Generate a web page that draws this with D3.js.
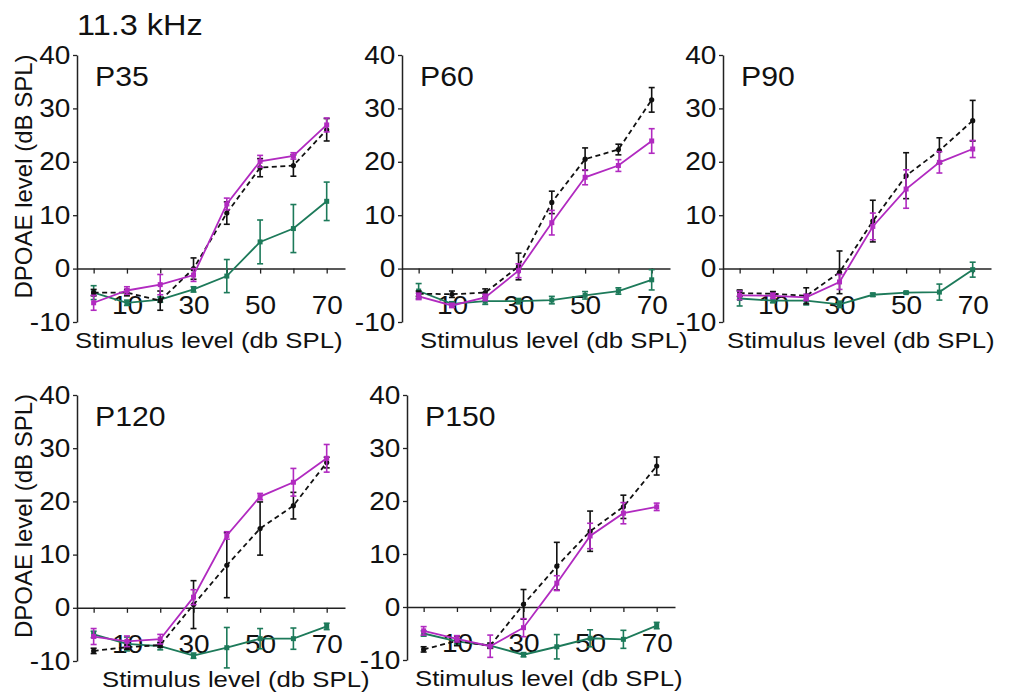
<!DOCTYPE html>
<html>
<head>
<meta charset="utf-8">
<script src="https://cdn.jsdelivr.net/npm/d3@7"></script>
<style>
  body { margin: 0; background: #fff; }
  svg { font-family: "Liberation Sans", Arial, sans-serif; }
</style>
</head>
<body>
<div id="chart"></div>
<script>
// stimulus levels (db SPL)
const levels = [0, 10, 20, 30, 40, 50, 60, 70];
const yTicks = [-10, 0, 10, 20, 30, 40];
const xLabelTicks = [10, 30, 50, 70];
const panelNames = ["P35", "P60", "P90", "P120", "P150"];

// mean DPOAE level, black dashed series
const blackP35 = [-4.5, -4.5, -6.0, 0.0, 10.4, 18.9, 19.3, 26.0];
const blackP60 = [-4.7, -4.8, -4.5, 0.4, 12.4, 20.5, 22.3, 31.6];
const blackP90 = [-4.6, -4.7, -5.1, -0.7, 8.9, 17.4, 22.1, 27.7];
const blackP120 = [-8.1, -7.4, -7.0, 0.6, 8.0, 14.9, 19.2, 27.3];
const blackP150 = [-8.0, -6.4, -7.3, 0.5, 7.7, 14.3, 18.9, 26.6];
const blackErrP35 = [0.6, 0.6, 1.8, 2.0, 2.1, 1.7, 2.0, 2.1];
const blackErrP60 = [0.5, 0.6, 0.7, 2.5, 2.1, 2.1, 1.0, 2.3];
const blackErrP90 = [0.6, 0.4, 1.5, 4.0, 3.9, 4.3, 2.4, 3.8];
const blackErrP120 = [0.5, 0.4, 0.4, 4.5, 6.1, 5.0, 2.5, 1.0];
const blackErrP150 = [0.5, 0.9, 0.5, 2.8, 4.5, 3.8, 2.2, 1.7];

// magenta series
const magentaP35 = [-6.4, -4.1, -3.0, -1.2, 12.1, 20.1, 21.1, 26.9];
const magentaP60 = [-5.2, -6.9, -5.4, -0.4, 8.6, 17.1, 19.3, 23.9];
const magentaP90 = [-5.0, -5.1, -5.4, -2.5, 7.9, 14.9, 19.9, 22.4];
const magentaP120 = [-5.4, -6.3, -5.9, 2.0, 13.6, 20.9, 23.6, 28.1];
const magentaP150 = [-4.5, -6.0, -7.4, -3.9, 4.5, 13.4, 17.7, 18.9];
const magentaErrP35 = [1.4, 0.7, 1.9, 1.2, 1.1, 1.1, 0.6, 1.3];
const magentaErrP60 = [0.6, 0.4, 0.6, 1.3, 2.3, 1.4, 1.1, 2.3];
const magentaErrP90 = [0.8, 0.5, 0.6, 1.4, 2.5, 3.6, 2.0, 1.6];
const magentaErrP120 = [1.5, 1.0, 0.9, 1.4, 0.7, 0.6, 2.6, 2.6];
const magentaErrP150 = [0.8, 0.6, 2.1, 1.7, 1.4, 2.4, 2.0, 0.7];

// green series
const greenP35 = [-4.5, -6.4, -5.8, -3.9, -1.4, 5.0, 7.5, 12.6];
const greenP60 = [-4.2, -6.6, -6.1, -6.1, -5.9, -5.0, -4.2, -2.1];
const greenP90 = [-5.6, -6.0, -6.0, -6.7, -4.9, -4.5, -4.4, -0.2];
const greenP120 = [-5.0, -6.8, -7.2, -9.0, -7.5, -5.8, -5.8, -3.5];
const greenP150 = [-5.0, -6.5, -7.3, -9.0, -7.5, -5.9, -6.1, -3.5];
const greenErrP35 = [1.3, 0.5, 0.5, 0.5, 3.1, 4.1, 4.5, 3.6];
const greenErrP60 = [1.4, 0.4, 0.6, 0.5, 0.7, 0.7, 0.6, 1.9];
const greenErrP90 = [1.4, 0.4, 0.8, 0.6, 0.3, 0.2, 1.5, 1.4];
const greenErrP120 = [0.6, 1.3, 0.7, 0.5, 3.8, 1.9, 2.0, 0.6];
const greenErrP150 = [0.5, 0.5, 0.4, 0.4, 2.3, 1.6, 1.7, 0.6];

const blackAll = [blackP35, blackP60, blackP90, blackP120, blackP150];
const blackErrAll = [blackErrP35, blackErrP60, blackErrP90, blackErrP120, blackErrP150];
const magentaAll = [magentaP35, magentaP60, magentaP90, magentaP120, magentaP150];
const magentaErrAll = [magentaErrP35, magentaErrP60, magentaErrP90, magentaErrP120, magentaErrP150];
const greenAll = [greenP35, greenP60, greenP90, greenP120, greenP150];
const greenErrAll = [greenErrP35, greenErrP60, greenErrP90, greenErrP120, greenErrP150];

const width = 1010, height = 698;
const plotW = 268;
const sx = 1.12; // lettering in the figure is a bit wider than tall

// layout: y-axis x position, top (40) and bottom (-10) pixel, x title offset
const layout = [
  {x: 77, top: 55, bottom: 322, titleDx: -2, yTitle: true},
  {x: 402, top: 55, bottom: 322, titleDx: 18, yTitle: false},
  {x: 723, top: 55, bottom: 322, titleDx: 4, yTitle: false},
  {x: 77, top: 395, bottom: 661, titleDx: 25, yTitle: true},
  {x: 407, top: 395, bottom: 660, titleDx: 8, yTitle: false}
];

const colBlack = "#111", colMagenta = "#b12ac0", colGreen = "#1d7a5a";

const svg = d3.select("#chart").append("svg")
  .attr("width", width)
  .attr("height", height);

function stretchText(g, x, y, txt, size, anchor) {
  return g.append("text")
    .attr("transform", `translate(${x},${y}) scale(${sx},1)`)
    .attr("text-anchor", anchor || "start")
    .style("font-size", size + "px")
    .attr("fill", "#111")
    .text(txt);
}

stretchText(svg, 77, 35, "11.3 kHz", 29);

function drawSeries(g, x, y, vals, errs, color, dashed, marker) {
  const pts = levels.map((l, i) => ({x: l, v: vals[i], e: errs[i]}));
  const line = d3.line().x(d => x(d.x)).y(d => y(d.v));
  g.append("path")
    .datum(pts)
    .attr("d", line)
    .attr("fill", "none")
    .attr("stroke", color)
    .attr("stroke-width", 1.8)
    .attr("stroke-dasharray", dashed ? "5,3.5" : null);
  const eb = g.append("g").selectAll("g").data(pts).join("g")
    .attr("stroke", color).attr("stroke-width", 1.6);
  eb.append("line")
    .attr("x1", d => x(d.x)).attr("x2", d => x(d.x))
    .attr("y1", d => y(d.v - d.e)).attr("y2", d => y(d.v + d.e));
  eb.append("line")
    .attr("x1", d => x(d.x) - 3).attr("x2", d => x(d.x) + 3)
    .attr("y1", d => y(d.v + d.e)).attr("y2", d => y(d.v + d.e));
  eb.append("line")
    .attr("x1", d => x(d.x) - 3).attr("x2", d => x(d.x) + 3)
    .attr("y1", d => y(d.v - d.e)).attr("y2", d => y(d.v - d.e));
  if (marker == "square") {
    g.append("g").selectAll("rect").data(pts).join("rect")
      .attr("x", d => x(d.x) - 2.5).attr("y", d => y(d.v) - 2.5)
      .attr("width", 5).attr("height", 5)
      .attr("fill", color);
  } else {
    g.append("g").selectAll("circle").data(pts).join("circle")
      .attr("cx", d => x(d.x)).attr("cy", d => y(d.v))
      .attr("r", 2.6)
      .attr("fill", color);
  }
}

panelNames.forEach((name, p) => {
  const L = layout[p];
  const g = svg.append("g");
  const x = d3.scaleLinear().domain([-5, 75.5]).range([L.x, L.x + plotW]);
  const y = d3.scaleLinear().domain([-10, 40]).range([L.bottom, L.top]);

  // y axis
  const ya = g.append("g")
    .attr("transform", `translate(${L.x},0)`)
    .call(d3.axisLeft(y).tickValues(yTicks).tickSize(4).tickSizeOuter(0).tickPadding(2)
      .tickFormat(d => String(d)));
  ya.select(".domain").attr("stroke", "#222").attr("stroke-width", 1.5);
  ya.selectAll(".tick line").attr("stroke", "#222").attr("stroke-width", 1.3);
  ya.selectAll("text")
    .style("font-size", "25px")
    .attr("font-family", "Liberation Sans, Arial, sans-serif")
    .attr("fill", "#111")
    .attr("transform", `scale(${sx},1)`);

  // x axis along the zero line
  const xa = g.append("g")
    .attr("transform", `translate(0,${y(0)})`)
    .call(d3.axisBottom(x).tickValues(levels).tickSize(5).tickSizeOuter(0)
      .tickFormat(d => xLabelTicks.includes(d) ? String(d) : ""));
  xa.select(".domain").attr("stroke", "#222").attr("stroke-width", 1.5);
  xa.selectAll(".tick line").attr("stroke", "#222").attr("stroke-width", 1.3);
  xa.selectAll("text")
    .style("font-size", "25px")
    .attr("font-family", "Liberation Sans, Arial, sans-serif")
    .attr("fill", "#111")
    .attr("y", y(-10) - y(0) - 26)
    .attr("transform", `scale(${sx},1)`);

  drawSeries(g, x, y, greenAll[p], greenErrAll[p], colGreen, false, "square");
  drawSeries(g, x, y, blackAll[p], blackErrAll[p], colBlack, true, "circle");
  drawSeries(g, x, y, magentaAll[p], magentaErrAll[p], colMagenta, false, "square");

  // panel label
  stretchText(g, L.x + 18, L.top + 31, name, 27);

  // x title
  stretchText(g, L.x + L.titleDx, L.bottom + 26, "Stimulus level (db SPL)", 23);

  if (L.yTitle) {
    g.append("text")
      .attr("transform", `translate(32,${(L.top + L.bottom) / 2 - 12}) rotate(-90)`)
      .attr("text-anchor", "middle")
      .style("font-size", "24px")
      .attr("fill", "#111")
      .text("DPOAE  level (dB SPL)");
  }
});
</script>
</body>
</html>
